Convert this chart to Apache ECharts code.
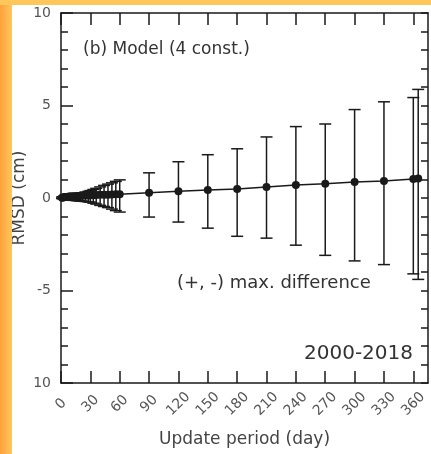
<!DOCTYPE html>
<html>
<head>
<meta charset="utf-8">
<script src="https://cdn.jsdelivr.net/npm/echarts@6/dist/echarts.min.js"></script>
<style>
  html, body { margin: 0; padding: 0; background: #fff; }
  #chart { width: 431px; height: 454px; }
</style>
</head>
<body>
<div id="chart"></div>
<script>
// update period (day)
const days = [1, 2, 3, 4, 5, 6, 7, 8, 9, 10, 12, 14, 16, 18, 20, 22, 25, 28, 30,
    33, 36, 40, 44, 48, 52, 56, 60, 90, 120, 150, 180, 210, 240, 270, 300, 330, 360, 365];
// RMSD (cm)
const rmsd = [0.02, 0.03, 0.04, 0.05, 0.05, 0.06, 0.07, 0.07, 0.08, 0.08, 0.09, 0.1, 0.1, 0.11, 0.12, 0.12, 0.13, 0.14, 0.15,
    0.15, 0.16, 0.17, 0.18, 0.18, 0.19, 0.2, 0.2, 0.28, 0.37, 0.43, 0.49, 0.6, 0.7, 0.77, 0.87, 0.92, 1.03, 1.05];
// (+) max. difference
const maxPlus = [0.05, 0.07, 0.09, 0.1, 0.11, 0.12, 0.13, 0.14, 0.15, 0.16, 0.18, 0.2, 0.22, 0.24, 0.26, 0.28, 0.32, 0.36, 0.4,
    0.46, 0.52, 0.6, 0.68, 0.75, 0.82, 0.9, 0.98, 1.36, 1.96, 2.34, 2.66, 3.3, 3.86, 4.0, 4.78, 5.2, 5.43, 5.87];
// (-) max. difference
const maxMinus = [-0.03, -0.04, -0.05, -0.06, -0.07, -0.08, -0.08, -0.09, -0.1, -0.1, -0.12, -0.13, -0.14, -0.15, -0.16, -0.17, -0.19, -0.21, -0.22,
    -0.28, -0.33, -0.4, -0.46, -0.52, -0.6, -0.68, -0.76, -1.03, -1.3, -1.63, -2.07, -2.17, -2.55, -3.1, -3.4, -3.6, -4.1, -4.4];

const xTicks = [0, 30, 60, 90, 120, 150, 180, 210, 240, 270, 300, 330, 360];
const yTickLabels = { '10': '10', '5': '5', '0': '0', '-5': '-5', '-10': '10' };

const FONT = 'DejaVu Sans';
const INK = '#1a1a1a';

const chart = echarts.init(document.getElementById('chart'), null, { renderer: 'canvas' });

const lineData = days.map((d, i) => [d, rmsd[i]]);
const barData = days.map((d, i) => [d, maxMinus[i], maxPlus[i]]);

const axisLine = { show: true, onZero: false, lineStyle: { color: INK, width: 1.5 } };
const tickStyle = { color: INK, width: 1.5 };

const option = {
    backgroundColor: '#fff',
    animation: false,
    grid: { left: 61, right: 3, top: 13, bottom: 71, containLabel: false, outerBoundsMode: 'none' },
    xAxis: [
        {
            type: 'value',
            min: 0,
            max: 375,
            position: 'bottom',
            name: 'Update period (day)',
            nameLocation: 'middle',
            nameGap: 48,
            nameMoveOverlap: false,
            nameTextStyle: { fontFamily: FONT, fontSize: 17, color: '#444' },
            axisLine: axisLine,
            axisTick: { inside: true, length: 12, customValues: xTicks, lineStyle: tickStyle },
            axisLabel: {
                customValues: xTicks,
                rotate: 45,
                align: 'center',
                verticalAlign: 'middle',
                margin: 21,
                fontFamily: FONT,
                fontSize: 14,
                color: '#555'
            },
            splitLine: { show: false }
        },
        {
            type: 'value',
            min: 0,
            max: 375,
            position: 'top',
            axisLine: axisLine,
            axisTick: { inside: true, length: 12, customValues: xTicks, lineStyle: tickStyle },
            axisLabel: { show: false },
            splitLine: { show: false }
        }
    ],
    yAxis: [
        {
            type: 'value',
            min: -10,
            max: 10,
            interval: 5,
            position: 'left',
            name: 'RMSD (cm)',
            nameLocation: 'middle',
            nameGap: 33,
            nameMoveOverlap: false,
            nameTextStyle: { fontFamily: FONT, fontSize: 17, color: '#444' },
            axisLine: axisLine,
            axisTick: { inside: true, length: 12, lineStyle: tickStyle },
            minorTick: { show: true, splitNumber: 5, length: 7, lineStyle: tickStyle },
            axisLabel: {
                margin: 10,
                fontFamily: FONT,
                fontSize: 14,
                color: '#555',
                formatter: v => yTickLabels[String(v)]
            },
            splitLine: { show: false }
        },
        {
            type: 'value',
            min: -10,
            max: 10,
            interval: 5,
            position: 'right',
            axisLine: axisLine,
            axisTick: { inside: true, length: 7, lineStyle: tickStyle },
            minorTick: { show: true, splitNumber: 5, length: 7, lineStyle: tickStyle },
            axisLabel: { show: false },
            splitLine: { show: false }
        }
    ],
    graphic: [
        {
            type: 'text', left: 83, top: 41,
            style: { text: '(b) Model (4 const.)', font: '17px "DejaVu Sans"', fill: '#333' }
        },
        {
            type: 'text', left: 177, top: 274,
            style: { text: '(+, -) max. difference', font: '18px "DejaVu Sans"', fill: '#333' }
        },
        {
            type: 'text', right: 18, top: 344,
            style: { text: '2000-2018', font: '20px "DejaVu Sans"', fill: '#333' }
        },
        {
            type: 'rect', left: 0, top: 0, z: 100,
            shape: { width: 12, height: 454 },
            style: {
                fill: new echarts.graphic.LinearGradient(0, 0, 1, 0, [
                    { offset: 0, color: '#ffa13a' },
                    { offset: 1, color: '#ffc660' }
                ])
            }
        },
        {
            type: 'rect', left: 0, top: 0, z: 100,
            shape: { width: 431, height: 5 },
            style: { fill: '#ffc65c' }
        }
    ],
    series: [
        {
            name: 'max difference',
            type: 'custom',
            xAxisIndex: 0,
            yAxisIndex: 0,
            data: barData,
            renderItem: function (params, api) {
                const x = api.value(0);
                const lo = api.coord([x, api.value(1)]);
                const hi = api.coord([x, api.value(2)]);
                const half = 6;
                const style = { stroke: INK, lineWidth: 1.5 };
                return {
                    type: 'group',
                    children: [
                        { type: 'line', shape: { x1: lo[0], y1: lo[1], x2: hi[0], y2: hi[1] }, style: style },
                        { type: 'line', shape: { x1: hi[0] - half, y1: hi[1], x2: hi[0] + half, y2: hi[1] }, style: style },
                        { type: 'line', shape: { x1: lo[0] - half, y1: lo[1], x2: lo[0] + half, y2: lo[1] }, style: style }
                    ]
                };
            },
            z: 2
        },
        {
            name: 'RMSD',
            type: 'line',
            xAxisIndex: 0,
            yAxisIndex: 0,
            data: lineData,
            symbol: 'circle',
            symbolSize: 8,
            itemStyle: { color: INK },
            lineStyle: { color: INK, width: 1.5 },
            z: 3
        }
    ]
};

chart.setOption(option);
</script>
</body>
</html>
